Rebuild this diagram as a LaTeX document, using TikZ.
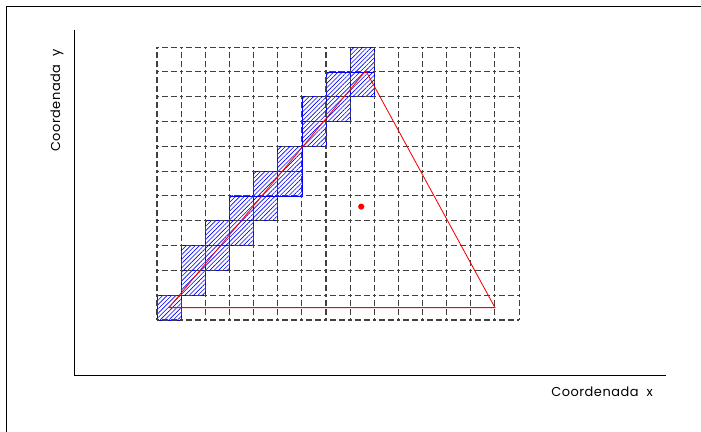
\documentclass[tikz,border=0pt]{standalone}
\usepackage{fontspec}
\newfontfamily\labelfont[LetterSpace=4]{Poppins}
\usetikzlibrary{patterns.meta}

\begin{document}
\begin{tikzpicture}[x=0.025cm, y=0.025cm,
  frame/.style={line width=0.7pt},
  axis/.style={line width=0.7pt},
  cellgrid/.style={line width=0.75pt, black!75, dash pattern=on 4.27pt off 2.13pt, dash phase=3.2pt},
  hatched/.style={draw=blue, line width=0.4pt, pattern={Lines[angle=45,distance=2.2pt,line width=0.45pt]}, pattern color=blue},
  tri/.style={red, line width=0.6pt},
  axlabel/.style={font=\labelfont\fontsize{9.2}{11}\selectfont, inner sep=0pt}
]
\useasboundingbox (0,0) rectangle (701,432);
\draw[frame] (6,0) -- (6,425) -- (701,425);

\coordinate (O) at (74,57);
\coordinate (ytop) at (74,402);
\coordinate (xend) at (666,57);
\draw[axis] (ytop) -- (O) -- (xend);
\node[axlabel, anchor=base west] (xlab) at (551,35) {Coordenada\ \ x};
\node[axlabel, anchor=base west, rotate=90] (ylab) at (60,280) {Coordenada\ \ y};

\begin{scope}[shift={(157,112)}, x=0.6033cm, y=0.62cm]
  \foreach \i/\j in {0/0,1/1,1/2,2/2,2/3,3/3,3/4,4/4,4/5,5/5,5/6,6/7,6/8,7/8,7/9,8/9,8/10}
    \draw[hatched] (\i,\j) rectangle ++(1,1);

  \foreach \j in {0,...,11}
    \foreach \i in {0,...,14}
      \draw[cellgrid] (\i,\j) -- ++(1,0);
  \foreach \i in {0,...,15}
    \foreach \j in {0,...,10}
      \draw[cellgrid] (\i,\j) -- ++(0,1);

  \coordinate (A) at (0.5,0.5);
  \coordinate (B) at (8.65,10.05);
  \coordinate (C) at (14,0.5);
  \draw[tri] (A) -- (B) -- (C) -- cycle;
  \node[circle, fill=red, inner sep=0pt, minimum size=4.4pt] (dot) at (8.46,4.57) {};
\end{scope}
\end{tikzpicture}
\end{document}
